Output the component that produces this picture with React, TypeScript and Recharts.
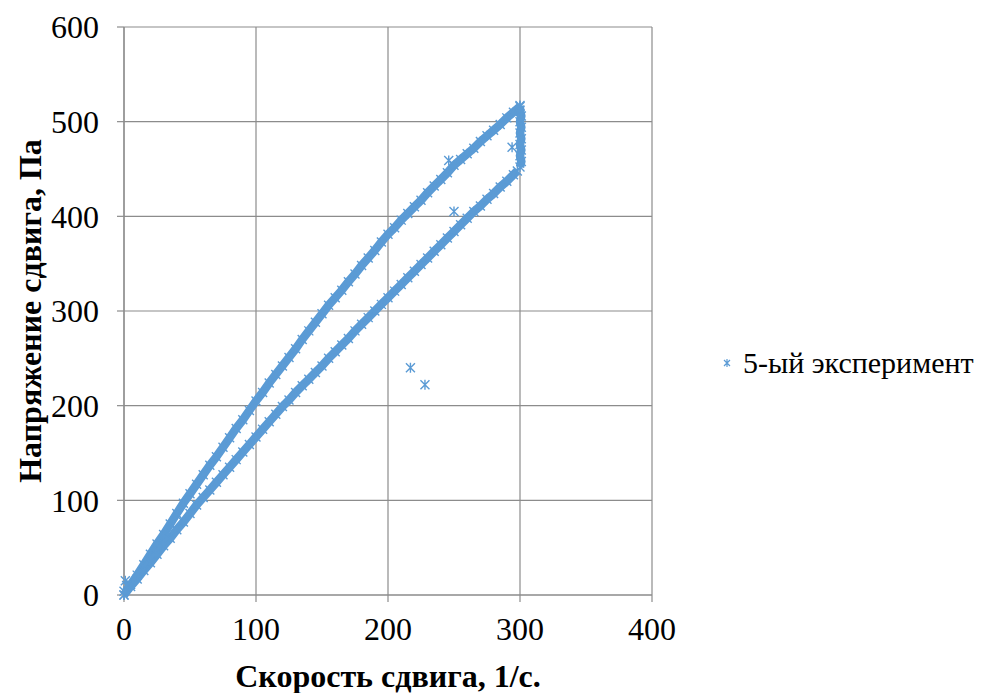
import React from 'react';
import { ScatterChart, Scatter, XAxis, YAxis, CartesianGrid } from 'recharts';

// Shear rate (1/s) vs shear stress (Pa) — 5th experiment
const upperBranch: [number, number][] = [
  [0, 0], [5, 11], [10, 21], [15, 32], [20, 43], [25, 54], [30, 64], [35, 75], [40, 86], [45, 97], [50, 107],
  [55, 117], [60, 127], [65, 137], [70, 146], [75, 156], [80, 166], [85, 176], [90, 185], [95, 195], [100, 205],
  [105, 214], [110, 224], [115, 233], [120, 242], [125, 251], [130, 260], [135, 270], [140, 279], [145, 288], [150, 297],
  [155, 306], [160, 314], [165, 322], [170, 331], [175, 339], [180, 348], [185, 356], [190, 364], [195, 373], [200, 381],
  [205, 388], [210, 396], [215, 403], [220, 410], [225, 417], [230, 425], [235, 432], [240, 439], [245, 446], [250, 454],
  [255, 460], [260, 466], [265, 472], [270, 479], [275, 485], [280, 491], [285, 497], [290, 504], [295, 510], [300, 516],
];

const holdSegment: [number, number][] = [
  [300, 517], [300, 512], [301, 506], [300, 500], [301, 494], [300, 488], [301, 482], [300, 476],
  [301, 470], [300, 464], [301, 458], [300, 452],
];

const lowerBranch: [number, number][] = [
  [298, 448], [295, 444], [290, 437], [285, 431], [280, 424], [275, 418], [270, 411], [265, 405], [260, 398],
  [255, 391], [250, 384], [245, 377], [240, 370], [235, 363], [230, 356], [225, 349], [220, 342], [215, 335],
  [210, 328], [205, 321], [200, 314], [195, 307], [190, 300], [185, 293], [180, 286], [175, 279], [170, 271],
  [165, 264], [160, 257], [155, 250], [150, 242], [145, 235], [140, 228], [135, 221], [130, 214], [125, 206],
  [120, 199], [115, 191], [110, 183], [105, 175], [100, 167], [95, 159], [90, 151], [85, 143], [80, 135],
  [75, 127], [70, 119], [65, 111], [60, 103], [55, 95], [50, 86], [45, 77], [40, 69], [35, 60], [30, 52],
  [25, 43], [20, 34], [15, 26], [10, 17], [5, 9], [0, 0],
];

const strayPoints: [number, number][] = [
  [1, 15], [2, 10], [0, 4], [217, 240], [228, 222], [246, 459], [250, 405], [294, 473],
];

const xTicks = [0, 100, 200, 300, 400];
const yTicks = [0, 100, 200, 300, 400, 500, 600];
const seriesName = '5-ый эксперимент';
const xTitle = 'Скорость сдвига, 1/с.';
const yTitle = 'Напряжение сдвига, Па';

const COLOR = '#5B9BD5';
const FONT = '"Liberation Serif", "Times New Roman", serif';
const FS = 32;

const toRows = (pts: [number, number][]) => pts.map(([x, y]) => ({ x, y }));

const Asterisk = (props: any) => {
  const { cx, cy } = props;
  if (cx == null || cy == null) return null;
  const r = 4.5;
  return (
    <path
      d={`M${cx - r},${cy - r}L${cx + r},${cy + r}M${cx + r},${cy - r}L${cx - r},${cy + r}M${cx},${cy - r - 0.5}L${cx},${cy + r + 0.5}`}
      stroke={COLOR}
      strokeWidth={1.4}
      fill="none"
    />
  );
};

const bandLine = { stroke: COLOR, strokeWidth: 8.5 };

export default function App() {
  return (
    <div style={{ position: 'relative', width: 982, height: 685, fontFamily: FONT }}>
      <ScatterChart width={982} height={685} margin={{ top: 19, right: 338, bottom: 0, left: 0 }}>
        <CartesianGrid stroke="#8c8c8c" strokeWidth={1.2} />
        <XAxis
          type="number"
          dataKey="x"
          domain={[0, 400]}
          ticks={xTicks}
          height={98}
          axisLine={{ stroke: '#8c8c8c', strokeWidth: 1.2 }}
          tickLine={{ stroke: '#8c8c8c', strokeWidth: 1.2 }}
          tickSize={7}
          tickMargin={15}
          tick={{ fill: '#000', fontSize: FS, fontFamily: FONT }}
          label={{
            value: xTitle,
            position: 'insideBottom',
            offset: 6,
            style: { fill: '#000', fontSize: FS, fontWeight: 'bold', fontFamily: FONT },
          }}
        />
        <YAxis
          type="number"
          dataKey="y"
          domain={[0, 600]}
          ticks={yTicks}
          width={116}
          axisLine={{ stroke: '#8c8c8c', strokeWidth: 1.2 }}
          tickLine={{ stroke: '#8c8c8c', strokeWidth: 1.2 }}
          tickSize={7}
          tickMargin={18}
          tick={{ fill: '#000', fontSize: FS, fontFamily: FONT }}
          label={{
            value: yTitle,
            angle: -90,
            position: 'insideLeft',
            offset: 22,
            style: { fill: '#000', fontSize: FS, fontWeight: 'bold', fontFamily: FONT, textAnchor: 'middle' },
          }}
        />
        <Scatter name={seriesName} data={toRows(upperBranch)} shape={Asterisk} line={bandLine} isAnimationActive={false} />
        <Scatter name={seriesName} data={toRows(holdSegment)} shape={Asterisk} line={bandLine} isAnimationActive={false} />
        <Scatter name={seriesName} data={toRows(lowerBranch)} shape={Asterisk} line={bandLine} isAnimationActive={false} />
        <Scatter name={seriesName} data={toRows(strayPoints)} shape={Asterisk} isAnimationActive={false} />
      </ScatterChart>
      <div
        style={{
          position: 'absolute',
          left: 712,
          top: 337,
          height: 36,
          lineHeight: '36px',
          display: 'flex',
          alignItems: 'center',
          fontSize: 30,
          fontFamily: FONT,
          color: '#000',
          whiteSpace: 'nowrap',
        }}
      >
        <svg width={14} height={14} style={{ marginRight: 9 }}>
          <path d="M4,4L10,10M10,4L4,10M7,3L7,11" stroke={COLOR} strokeWidth={1.2} fill="none" />
        </svg>
        <span>{seriesName}</span>
      </div>
    </div>
  );
}
